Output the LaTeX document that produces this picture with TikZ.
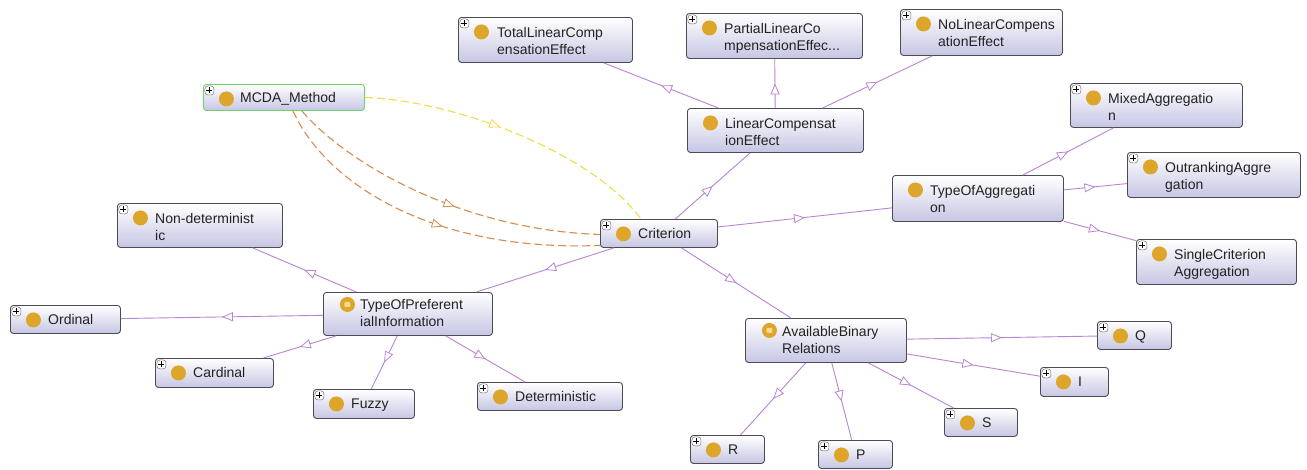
\documentclass[tikz,border=0pt]{standalone}
\usepackage{fontspec}
\setmainfont{Liberation Sans}
\usetikzlibrary{arrows.meta,decorations.markings,calc}
\definecolor{ogEdge}{HTML}{B884D4}
\definecolor{ogBorder}{HTML}{4B4B55}
\definecolor{ogFill}{HTML}{C6C6E4}
\definecolor{ogDot}{HTML}{DDA52A}
\definecolor{ogDotLt}{HTML}{F4D98E}
\definecolor{ogGreen}{HTML}{6CD26C}
\definecolor{ogOrange}{HTML}{D98A4E}
\definecolor{ogYellow}{HTML}{EEDC4A}
\definecolor{ogText}{HTML}{222222}

\begin{document}
\begin{tikzpicture}[
      x=1pt, y=-1pt,
      clsbase/.style={rectangle, rounded corners=3pt, draw=ogBorder, line width=0.9pt,
                  top color=white, bottom color=ogFill, anchor=north west, inner sep=0pt},
      cls/.style={clsbase, path picture={
          \fill[ogDot] ([shift={(23pt,-14.5pt)}]path picture bounding box.north west) circle (7.5pt);
          \draw[black!55, fill=white, line width=0.5pt]
            ([shift={(1.5pt,-1.5pt)}]path picture bounding box.north west) rectangle ++(9pt,-9pt);
          \draw[black, line width=0.7pt]
            ([shift={(6pt,-3pt)}]path picture bounding box.north west) -- ++(0pt,-6pt)
            ([shift={(3pt,-6pt)}]path picture bounding box.north west) -- ++(6pt,0pt);
        }},
      clsopen/.style={clsbase, path picture={
          \fill[ogDot] ([shift={(23pt,-14.5pt)}]path picture bounding box.north west) circle (7.5pt);
        }},
      clsdef/.style={clsbase, path picture={
          \fill[ogDot] ([shift={(24pt,-12pt)}]path picture bounding box.north west) circle (7.5pt);
          \fill[ogDotLt, rounded corners=1pt]
            ([shift={(21pt,-9.5pt)}]path picture bounding box.north west) rectangle ++(6pt,-5pt);
        }},
      lbl/.style={anchor=base west, inner sep=0pt, align=left,
                  font=\fontsize{14}{17}\selectfont, text=ogText},
      isa/.style={ogEdge, line width=0.9pt, postaction={decorate},
                  decoration={markings, mark=at position 0.5 with
                    {\arrow[line width=0.8pt]{Triangle[fill=white, length=11pt, width=9pt]}}}},
      rel/.style={line width=1.1pt, dash pattern=on 8pt off 4pt, postaction={decorate},
                  decoration={markings, mark=at position #1 with
                    {\arrow[solid, line width=0.8pt]{Triangle[fill=white, length=11pt, width=9pt]}}}},
    ]

    \useasboundingbox[fill=white] (0,0) rectangle (1307,469);

    % ---------- clases ----------
    % (texto de dos lineas: base west = linea de base de la ultima linea)
    \node[cls, minimum width=174pt, minimum height=45pt] (total) at (458,17) {};
    \node[lbl] (total-t) at ([shift={(39pt,-37pt)}]total.north west) {TotalLinearComp\\ensationEffect};

    \node[cls, minimum width=176pt, minimum height=45pt] (partial) at (686,13) {};
    \node[lbl] (partial-t) at ([shift={(38pt,-37pt)}]partial.north west) {PartialLinearCo\\mpensationEffec...};

    \node[cls, minimum width=162pt, minimum height=46pt] (nolin) at (900,9) {};
    \node[lbl] (nolin-t) at ([shift={(38pt,-37pt)}]nolin.north west) {NoLinearCompens\\ationEffect};

    \node[cls, draw=ogGreen, minimum width=161pt, minimum height=26pt] (mcda) at (203,84) {};
    \node[lbl] (mcda-t) at ([shift={(37pt,-18.5pt)}]mcda.north west) {MCDA\_Method};

    \node[clsopen, minimum width=176pt, minimum height=44pt] (lce) at (687,108) {};
    \node[lbl] (lce-t) at ([shift={(38pt,-37pt)}]lce.north west) {LinearCompensat\\ionEffect};

    \node[cls, minimum width=117pt, minimum height=28pt] (crit) at (600,219) {};
    \node[lbl] (crit-t) at ([shift={(38pt,-19pt)}]crit.north west) {Criterion};

    \node[clsopen, minimum width=171pt, minimum height=46pt] (toa) at (892,175) {};
    \node[lbl] (toa-t) at ([shift={(38pt,-37pt)}]toa.north west) {TypeOfAggregati\\on};

    \node[cls, minimum width=172pt, minimum height=44pt] (mixed) at (1070,83) {};
    \node[lbl] (mixed-t) at ([shift={(38pt,-37pt)}]mixed.north west) {MixedAggregatio\\n};

    \node[cls, minimum width=173pt, minimum height=45pt] (outr) at (1127,152) {};
    \node[lbl] (outr-t) at ([shift={(38pt,-37pt)}]outr.north west) {OutrankingAggre\\gation};

    \node[cls, minimum width=160pt, minimum height=45pt] (single) at (1136,239) {};
    \node[lbl] (single-t) at ([shift={(38pt,-37pt)}]single.north west) {SingleCriterion\\Aggregation};

    \node[cls, minimum width=165pt, minimum height=44pt] (nondet) at (117,203) {};
    \node[lbl] (nondet-t) at ([shift={(38pt,-37pt)}]nondet.north west) {Non-determinist\\ic};

    \node[clsdef, minimum width=169pt, minimum height=43pt] (topi) at (323,292) {};
    \node[lbl] (topi-t) at ([shift={(37pt,-34pt)}]topi.north west) {TypeOfPreferent\\ialInformation};

    \node[cls, minimum width=110pt, minimum height=28pt] (ordinal) at (10,305) {};
    \node[lbl] (ordinal-t) at ([shift={(38pt,-19pt)}]ordinal.north west) {Ordinal};

    \node[cls, minimum width=118pt, minimum height=29pt] (cardinal) at (155,358) {};
    \node[lbl] (cardinal-t) at ([shift={(38pt,-19pt)}]cardinal.north west) {Cardinal};

    \node[cls, minimum width=101pt, minimum height=29pt] (fuzzy) at (313,389) {};
    \node[lbl] (fuzzy-t) at ([shift={(38pt,-19pt)}]fuzzy.north west) {Fuzzy};

    \node[cls, minimum width=145pt, minimum height=28pt] (determ) at (477,382) {};
    \node[lbl] (determ-t) at ([shift={(38pt,-19pt)}]determ.north west) {Deterministic};

    \node[clsdef, minimum width=161pt, minimum height=44pt] (abr) at (745,318) {};
    \node[lbl] (abr-t) at ([shift={(37pt,-35pt)}]abr.north west) {AvailableBinary\\Relations};

    \node[cls, minimum width=74pt, minimum height=28pt] (relq) at (1097,321) {};
    \node[lbl] (relq-t) at ([shift={(38pt,-19pt)}]relq.north west) {Q};

    \node[cls, minimum width=68pt, minimum height=29pt] (reli) at (1040,367) {};
    \node[lbl] (reli-t) at ([shift={(38pt,-19pt)}]reli.north west) {I};

    \node[cls, minimum width=73pt, minimum height=28pt] (rels) at (944,408) {};
    \node[lbl] (rels-t) at ([shift={(38pt,-19pt)}]rels.north west) {S};

    \node[cls, minimum width=74pt, minimum height=28pt] (relr) at (690,435) {};
    \node[lbl] (relr-t) at ([shift={(38pt,-19pt)}]relr.north west) {R};

    \node[cls, minimum width=74pt, minimum height=28pt] (relp) at (818,440) {};
    \node[lbl] (relp-t) at ([shift={(38pt,-19pt)}]relp.north west) {P};

    % ---------- subclases ----------
    \draw[isa] (lce) -- (total);
    \draw[isa] (lce) -- (partial);
    \draw[isa] (lce) -- (nolin);
    \draw[isa] (crit) -- (lce);
    \draw[isa] (crit) -- (toa);
    \draw[isa] (toa) -- (mixed);
    \draw[isa] (toa) -- (outr);
    \draw[isa] (toa) -- (single);
    \draw[isa] (crit) -- (topi);
    \draw[isa] (crit) -- (abr);
    \draw[isa] (topi) -- (nondet);
    \draw[isa] (topi) -- (ordinal);
    \draw[isa] (topi) -- (cardinal);
    \draw[isa] (topi) -- (fuzzy);
    \draw[isa] (topi) -- (determ);
    \draw[isa] (abr) -- (relq);
    \draw[isa] (abr) -- (reli);
    \draw[isa] (abr) -- (rels);
    \draw[isa] (abr) -- (relr);
    \draw[isa] (abr) -- (relp);

    % ---------- relaciones MCDA_Method - Criterion ----------
    \draw[rel=0.55, ogOrange] ([xshift=18pt]mcda.south) .. controls (345,162) and (460,230) .. ([yshift=-1pt]crit.west);
    \draw[rel=0.55, ogOrange] ([xshift=9pt]mcda.south) .. controls (325,182) and (430,252) .. ([yshift=-12pt]crit.west);
    \draw[rel=0.45, ogYellow] (mcda.east) .. controls (450,100) and (590,150) .. ([xshift=-18pt]crit.north);

  \end{tikzpicture}
\end{document}
